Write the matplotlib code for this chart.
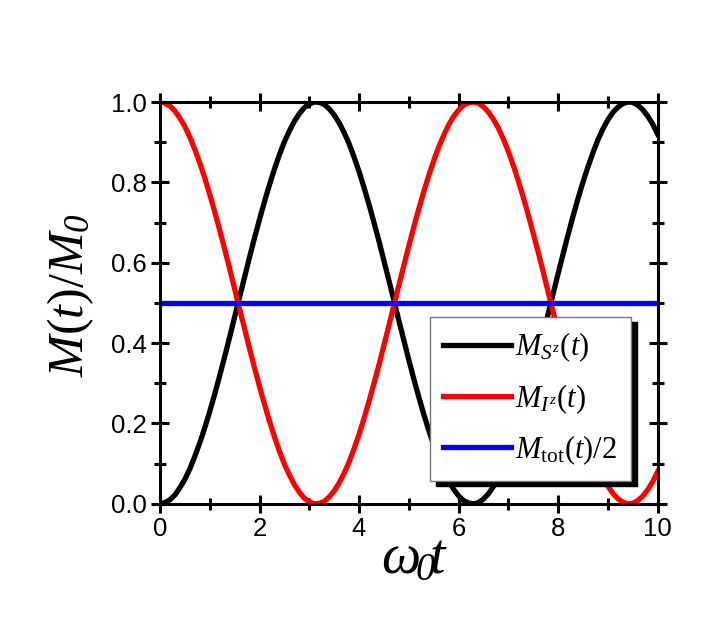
import numpy as np
import matplotlib
matplotlib.use("Agg")
import matplotlib.pyplot as plt

# values, every 0.1 in omega_0 t
t = [round(0.1 * k, 1) for k in range(101)]
m_s = [0.000, 0.003, 0.010, 0.022, 0.040, 0.061, 0.087, 0.118, 0.152, 0.189,
       0.230, 0.273, 0.319, 0.366, 0.415, 0.465, 0.515, 0.564, 0.614, 0.662,
       0.708, 0.752, 0.794, 0.833, 0.869, 0.901, 0.928, 0.952, 0.971, 0.986,
       0.995, 1.000, 0.999, 0.994, 0.983, 0.968, 0.948, 0.924, 0.896, 0.863,
       0.827, 0.787, 0.745, 0.700, 0.654, 0.605, 0.556, 0.506, 0.456, 0.407,
       0.358, 0.311, 0.266, 0.223, 0.183, 0.146, 0.112, 0.083, 0.057, 0.036,
       0.020, 0.008, 0.002, 0.000, 0.003, 0.012, 0.025, 0.043, 0.065, 0.092,
       0.123, 0.158, 0.196, 0.237, 0.281, 0.327, 0.374, 0.423, 0.473, 0.523,
       0.573, 0.622, 0.670, 0.716, 0.760, 0.801, 0.839, 0.874, 0.906, 0.933,
       0.956, 0.974, 0.987, 0.996, 1.000, 0.999, 0.992, 0.981, 0.965, 0.945,
       0.920]
m_i = [1.000, 0.997, 0.990, 0.978, 0.960, 0.939, 0.913, 0.882, 0.848, 0.811,
       0.770, 0.727, 0.681, 0.634, 0.585, 0.535, 0.485, 0.436, 0.386, 0.338,
       0.292, 0.248, 0.206, 0.167, 0.131, 0.099, 0.072, 0.048, 0.029, 0.014,
       0.005, 0.000, 0.001, 0.006, 0.017, 0.032, 0.052, 0.076, 0.104, 0.137,
       0.173, 0.213, 0.255, 0.300, 0.346, 0.395, 0.444, 0.494, 0.544, 0.593,
       0.642, 0.689, 0.734, 0.777, 0.817, 0.854, 0.888, 0.917, 0.943, 0.964,
       0.980, 0.992, 0.998, 1.000, 0.997, 0.988, 0.975, 0.957, 0.935, 0.908,
       0.877, 0.842, 0.804, 0.763, 0.719, 0.673, 0.626, 0.577, 0.527, 0.477,
       0.427, 0.378, 0.330, 0.284, 0.240, 0.199, 0.161, 0.126, 0.094, 0.067,
       0.044, 0.026, 0.013, 0.004, 0.000, 0.001, 0.008, 0.019, 0.035, 0.055,
       0.080]
t_tot = [0.0, 10.0]
m_tot = [0.5, 0.5]

plt.rcParams['mathtext.fontset'] = 'custom'
plt.rcParams['mathtext.rm'] = 'Liberation Serif'
plt.rcParams['mathtext.it'] = 'Liberation Serif:italic'
plt.rcParams['mathtext.sf'] = 'Liberation Serif:italic'   # used for italic digits
plt.rcParams['mathtext.bf'] = 'Liberation Serif:bold'
plt.rcParams['font.family'] = ['Liberation Sans', 'DejaVu Sans']

fig = plt.figure(figsize=(7.11, 6.22), dpi=100)
ax = fig.add_axes([0.225, 0.190, 0.700, 0.646])

ax.plot(t, m_s, color='black', lw=3.8, label=r'$M_{S^{z}}(t)$')
ax.plot(t, m_i, color='red', lw=3.8, label=r'$M_{I^{z}}(t)$')
ax.plot(t_tot, m_tot, color='blue', lw=3.8, label=r'$M_{\mathrm{tot}}(t)/2$')

ax.set_xlim(0, 10)
ax.set_ylim(0, 1.0)
ax.set_xticks([0, 2, 4, 6, 8, 10])
ax.set_xticks([1, 3, 5, 7, 9], minor=True)
ax.set_yticks([0.0, 0.2, 0.4, 0.6, 0.8, 1.0])
ax.set_yticks([0.1, 0.3, 0.5, 0.7, 0.9], minor=True)
ax.yaxis.set_major_formatter(matplotlib.ticker.FormatStrFormatter('%.1f'))
ax.tick_params(which='both', direction='inout', top=True, right=True,
               width=2.2, labelsize=18.5)
ax.tick_params(which='major', length=13, pad=3)
ax.tick_params(which='minor', length=9)
for s in ax.spines.values():
    s.set_linewidth(2.2)

ax.set_xlabel(r'$\omega_{\!\mathsf{0}}\!t$', fontsize=40)
ax.xaxis.set_label_coords(0.512, -0.072)
ax.set_ylabel(r'$M(t)/M_{\mathsf{0}}$', fontsize=36)
ax.yaxis.set_label_coords(-0.128, 0.52)

leg = ax.legend(loc='upper left', bbox_to_anchor=(0.542, 0.465),
                fontsize=22, frameon=True, fancybox=False, framealpha=1,
                handlelength=2.2, handletextpad=0.15, borderpad=0.45,
                borderaxespad=0, labelspacing=0.58,
                shadow={'ox': 4.3, 'oy': -3.6, 'facecolor': 'black',
                        'edgecolor': 'black', 'alpha': 1})
leg.get_frame().set_edgecolor('#777777')
leg.get_frame().set_facecolor('white')
leg.get_frame().set_linewidth(1.0)
leg.set_zorder(5)

fig.savefig('out.png', dpi=100)
